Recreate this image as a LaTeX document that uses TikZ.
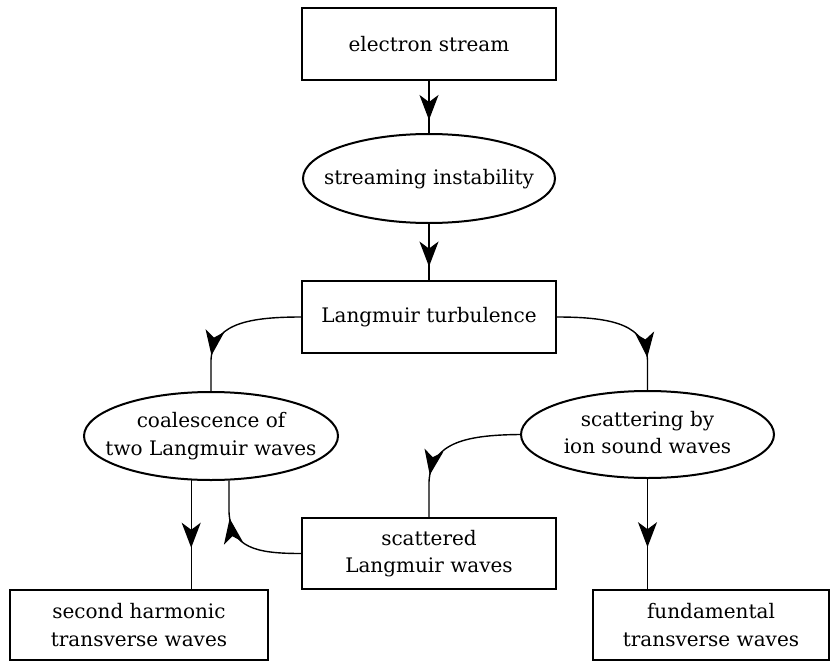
\documentclass[tikz,border=0pt]{standalone}
\usepackage{fontspec}
\setmainfont{DejaVu Serif}
\usetikzlibrary{arrows.meta,decorations.markings,shapes.geometric}
\newcommand{\ovtxt}[1]{\makebox[0pt][c]{\begin{tabular}{@{}c@{}}#1\end{tabular}}}
\begin{document}
\begin{tikzpicture}[x=1pt,y=1pt,
  txt/.style={font=\fontsize{20}{27.5}\selectfont},
  box/.style={txt, draw, line width=2pt, rectangle, inner sep=0pt, align=center},
  oval/.style={txt, draw, line width=2pt, ellipse, inner sep=0pt},
  conn/.style={line width=1.4pt},
  midarr/.style={postaction={decorate}, decoration={markings,
     mark=at position #1 with {\arrow{Stealth[length=25pt,width=19pt,inset=7pt]}}}}
]
\useasboundingbox (0,0) rectangle (835,-661);

\node[box, minimum width=254pt, minimum height=72pt] (es) at (429,-44) {electron stream};
\node[oval, minimum width=252pt, minimum height=89pt] (si) at (429,-178.5) {\ovtxt{streaming instability}};
\node[box, minimum width=254pt, minimum height=72pt] (lt) at (429,-317) {Langmuir turbulence};
\node[oval, minimum width=254pt, minimum height=88pt] (co) at (211,-436) {\ovtxt{coalescence of\\two Langmuir waves}};
\node[oval, minimum width=253pt, minimum height=87pt] (sc) at (647.5,-434.5) {\ovtxt{scattering by\\ion sound waves}};
\node[box, minimum width=254pt, minimum height=71pt] (sl) at (429,-553.5) {scattered\\Langmuir waves};
\node[box, minimum width=258pt, minimum height=70pt] (sh) at (139,-625) {second harmonic\\transverse waves};
\node[box, minimum width=236pt, minimum height=70pt] (fu) at (711,-625) {fundamental\\transverse waves};

\draw[conn, midarr=0.75] (es) -- (si);
\draw[conn, midarr=0.76] (si) -- (lt);
\draw[conn, midarr=0.75] (lt.west) .. controls (242,-317) and (213,-326) .. (211,-360) -- (co.north);
\draw[conn, midarr=0.77] (lt.east) .. controls (616,-317) and (645.5,-326) .. (647.5,-360) -- (sc.north);
\draw[conn, midarr=0.72] (sc.west) .. controls (462,-435) and (431,-444) .. (429,-482) -- (sl.north);
\draw[conn, midarr=0.70] (sl.west) .. controls (256,-553.5) and (231,-548) .. (229,-512) -- (co.292);
\draw[conn, midarr=0.62] (co.246) -- (co.246 |- sh.north);
\draw[conn, midarr=0.62] (sc.south) -- (sc.south |- fu.north);
\end{tikzpicture}
\end{document}
